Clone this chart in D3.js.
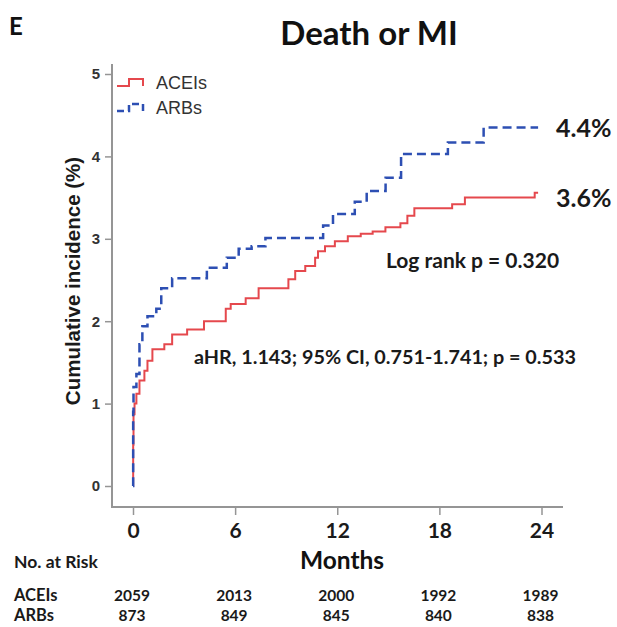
<!DOCTYPE html>
<html>
<head>
<meta charset="utf-8">
<script src="https://cdn.jsdelivr.net/npm/d3@7"></script>
<style>
  body { margin: 0; background: #fff; }
  svg { display: block; }
</style>
</head>
<body>
<div id="km"></div>
<script>
// cumulative incidence steps [month, %]
var aceiSteps = [[0, 0], [0.01, 0.5], [0.03, 0.87], [0.09, 1.0], [0.2, 1.12], [0.38, 1.28],
  [0.67, 1.4], [0.85, 1.52], [1.14, 1.66], [1.84, 1.72], [2.3, 1.84], [3.18, 1.9],
  [4.17, 2.0], [5.45, 2.15], [5.74, 2.21], [6.62, 2.28], [7.38, 2.4], [9.13, 2.51],
  [9.53, 2.61], [10.12, 2.67], [10.7, 2.77], [10.87, 2.85], [11.28, 2.91], [11.86, 2.97],
  [12.62, 3.03], [13.38, 3.06], [14.08, 3.09], [14.83, 3.14], [15.71, 3.19], [16.12, 3.28],
  [16.53, 3.37], [18.75, 3.42], [19.5, 3.5], [23.6, 3.56], [23.8, 3.56]];
var arbSteps = [[0, 0], [0.01, 0.9], [0.03, 1.2], [0.2, 1.36], [0.38, 1.72], [0.55, 1.94],
  [0.85, 2.06], [1.37, 2.15], [1.66, 2.4], [2.3, 2.52], [4.34, 2.65], [5.51, 2.77],
  [6.21, 2.88], [6.97, 2.91], [7.78, 3.01], [11.17, 3.16], [11.75, 3.3], [13.03, 3.45],
  [13.73, 3.58], [14.84, 3.74], [15.75, 4.03], [18.5, 4.17], [20.6, 4.35], [23.8, 4.35]];

var monthTicks = [0, 6, 12, 18, 24];
var yTicks = [0, 1, 2, 3, 4, 5];
var groups = ["ACEIs", "ARBs"];
var atRiskAcei = [2059, 2013, 2000, 1992, 1989];
var atRiskArb = [873, 849, 845, 840, 838];
var endLabels = ["3.6%", "4.4%"];

var width = 617, height = 627;
var calibri = "Lato, 'Open Sans', sans-serif";
var arial = "'Liberation Sans', Arial, sans-serif";

var x = d3.scaleLinear().domain([0, 24]).range([133, 541.5]);
var y = d3.scaleLinear().domain([0, 5]).range([486, 74]);

var svg = d3.select("#km").append("svg")
    .attr("width", width)
    .attr("height", height);

svg.append("rect").attr("width", width).attr("height", height).attr("fill", "#fff");

// panel letter and title
svg.append("text").attr("x", 9).attr("y", 35)
    .attr("font-family", calibri).attr("font-weight", "bold").attr("font-size", 24)
    .attr("fill", "#111")
    .text("E");
svg.append("text").attr("x", 369).attr("y", 45)
    .attr("text-anchor", "middle")
    .attr("font-family", calibri).attr("font-weight", "bold").attr("font-size", 33)
    .attr("fill", "#111")
    .text("Death or MI");

// axes (frame lines drawn separately, ticks via d3 axes)
var axisColor = "#959595";
svg.append("line").attr("x1", 112).attr("x2", 112).attr("y1", 64).attr("y2", 507)
    .attr("stroke", axisColor).attr("stroke-width", 2);
svg.append("line").attr("x1", 111).attr("x2", 563).attr("y1", 507).attr("y2", 507)
    .attr("stroke", axisColor).attr("stroke-width", 2);

var yAxis = svg.append("g")
    .attr("transform", "translate(112,0)")
    .call(d3.axisLeft(y).tickValues(yTicks).tickFormat(d3.format("d")).tickSize(7).tickPadding(5));
yAxis.select(".domain").remove();
yAxis.selectAll("line").attr("stroke", axisColor).attr("stroke-width", 1.5);
yAxis.selectAll("text")
    .attr("font-family", arial).attr("font-weight", "bold").attr("font-size", 15)
    .attr("fill", "#333");

var xAxis = svg.append("g")
    .attr("transform", "translate(0,507)")
    .call(d3.axisBottom(x).tickValues(monthTicks).tickSize(8).tickPadding(8));
xAxis.select(".domain").remove();
xAxis.selectAll("line").attr("stroke", axisColor).attr("stroke-width", 1.5);
xAxis.selectAll("text")
    .attr("font-family", calibri).attr("font-weight", "bold").attr("font-size", 21)
    .attr("fill", "#1a1a1a");

// axis labels
svg.append("text")
    .attr("transform", "translate(80,281) rotate(-90)")
    .attr("text-anchor", "middle")
    .attr("font-family", arial).attr("font-weight", "bold").attr("font-size", 20.5)
    .attr("fill", "#1a1a1a")
    .text("Cumulative incidence (%)");
svg.append("text").attr("x", 342).attr("y", 569)
    .attr("text-anchor", "middle")
    .attr("font-family", calibri).attr("font-weight", "bold").attr("font-size", 24.5)
    .attr("fill", "#111")
    .text("Months");

// curves
var step = d3.line()
    .x(function (d) { return x(d[0]); })
    .y(function (d) { return y(d[1]); })
    .curve(d3.curveStepAfter);

svg.append("path").datum(aceiSteps)
    .attr("d", step).attr("fill", "none")
    .attr("stroke", "#e5484d").attr("stroke-width", 2);
svg.append("path").datum(arbSteps)
    .attr("d", step).attr("fill", "none")
    .attr("stroke", "#2d4fb3").attr("stroke-width", 2.5)
    .attr("stroke-dasharray", "9,5");

// legend
var legend = svg.append("g");
var legendStyles = [
  {color: "#e5484d", dash: null, w: 2},
  {color: "#2d4fb3", dash: "7,4", w: 2.5}
];
groups.forEach(function (g, i) {
    var ly = 86 + i * 25;
    legend.append("path")
        .attr("d", "M117," + ly + "H129V" + (ly - 7) + "H143V" + ly)
        .attr("fill", "none")
        .attr("stroke", legendStyles[i].color)
        .attr("stroke-width", legendStyles[i].w)
        .attr("stroke-dasharray", legendStyles[i].dash);
    legend.append("text").attr("x", 156).attr("y", ly + 3)
        .attr("font-family", arial).attr("font-size", 18).attr("fill", "#333")
        .text(g);
});

// end-of-curve labels and statistics
var endBase = [207, 137];
endLabels.forEach(function (t, i) {
    svg.append("text").attr("x", 556).attr("y", endBase[i])
        .attr("font-family", calibri).attr("font-weight", "bold").attr("font-size", 25)
        .attr("fill", "#1a1a1a")
        .text(t);
});
svg.append("text").attr("x", 386).attr("y", 268)
    .attr("font-family", calibri).attr("font-weight", "bold").attr("font-size", 21)
    .attr("fill", "#1a1a1a")
    .text("Log rank p = 0.320");
svg.append("text").attr("x", 194).attr("y", 364)
    .attr("font-family", calibri).attr("font-weight", "bold").attr("font-size", 19.8)
    .attr("fill", "#1a1a1a")
    .text("aHR, 1.143; 95% CI, 0.751-1.741; p = 0.533");

// number at risk table
var risk = svg.append("g")
    .attr("font-family", calibri).attr("font-weight", "bold").attr("fill", "#1a1a1a");
risk.append("text").attr("x", 14).attr("y", 568).attr("font-size", 17.5).text("No. at Risk");
[atRiskAcei, atRiskArb].forEach(function (row, i) {
    var ry = 601 + i * 20;
    risk.append("text").attr("x", 14).attr("y", ry).attr("font-size", 16.5).text(groups[i]);
    risk.selectAll(null).data(row).enter().append("text")
        .attr("x", function (d, j) { return x(monthTicks[j]) - 1; })
        .attr("y", ry)
        .attr("text-anchor", "middle")
        .attr("font-size", 15.5)
        .text(function (d) { return d; });
});
</script>
</body>
</html>
